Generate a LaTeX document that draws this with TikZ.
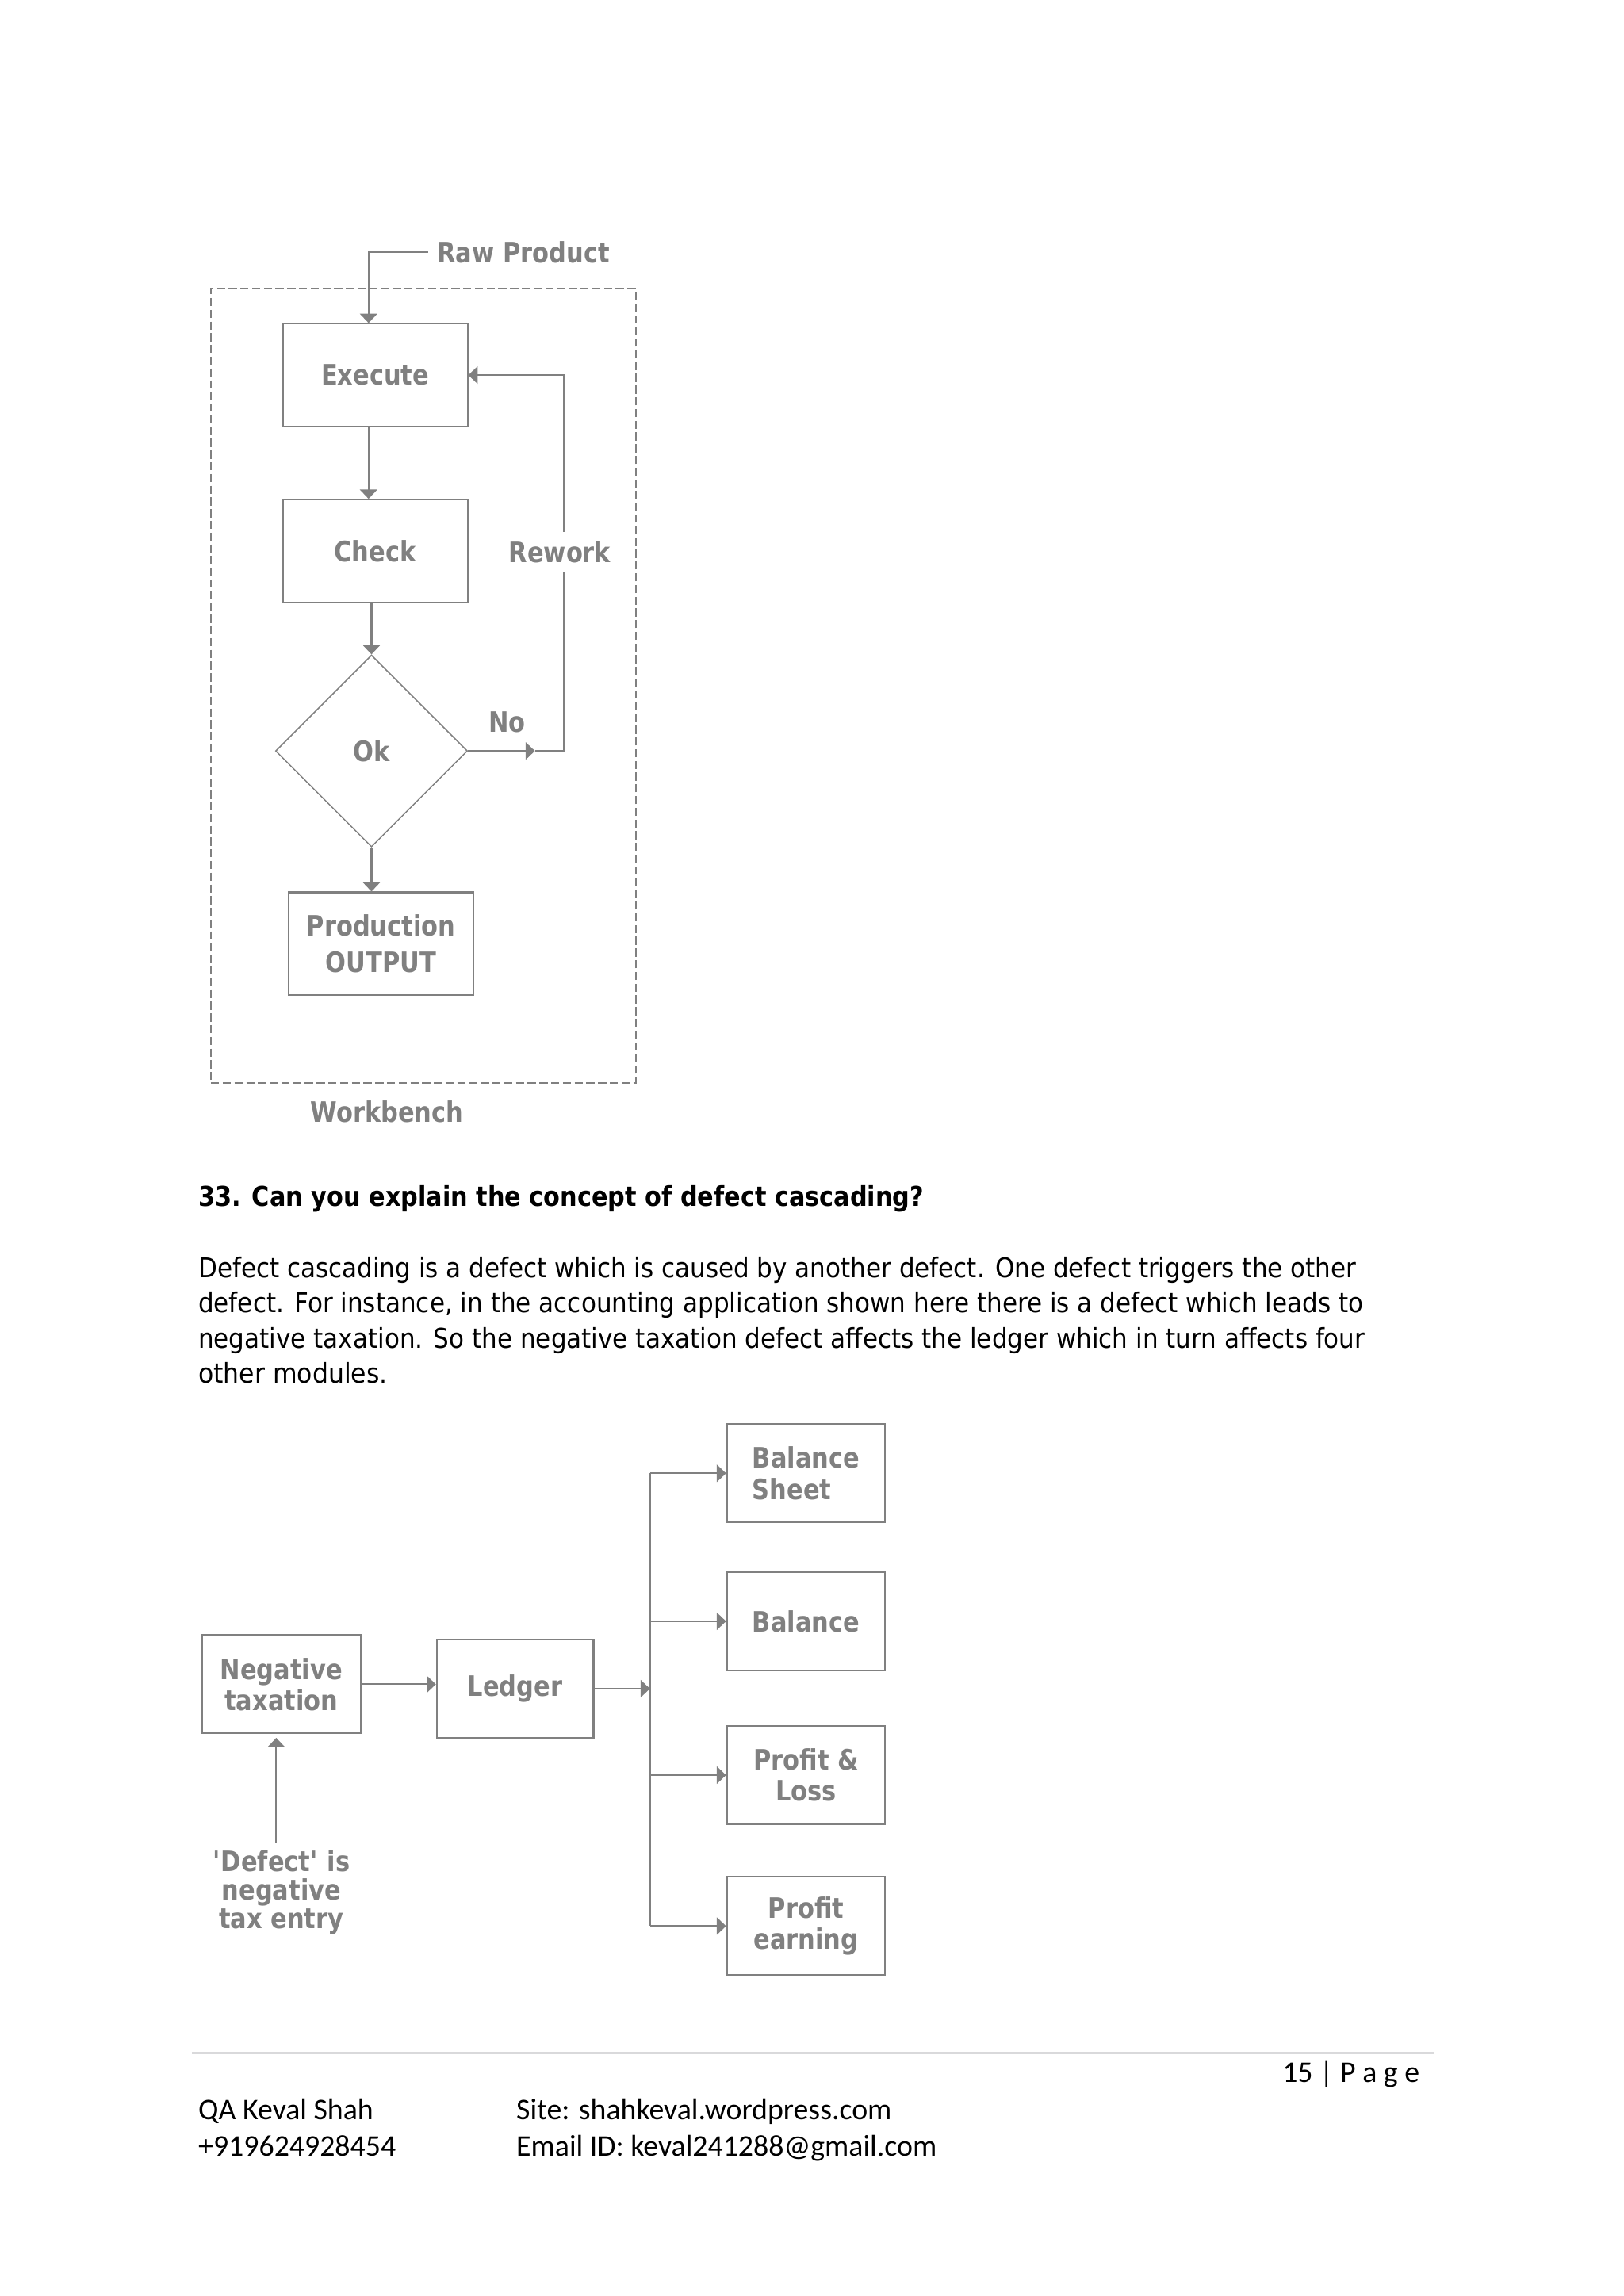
\documentclass[tikz,border=0pt]{standalone}
\usepackage{fontspec}
\setmainfont{DejaVu Sans}
\newfontfamily\dgfont{DejaVu Sans}[FakeStretch=0.86]
\newfontfamily\ftfont{Carlito}
\usetikzlibrary{arrows.meta,shapes.geometric,calc}
\definecolor{dg}{RGB}{128,128,128}
\definecolor{rulec}{RGB}{217,217,219}
\def\pxu{0.5373pt}
\newlength\fitw
\newcommand\mkfit[2]{\settowidth\fitw{#2}\pgfmathsetmacro\fitr{#1*0.5373/\fitw}\scalebox{\fitr}[1]{#2}}
\newcommand\sqt{\XeTeXglyph\XeTeXglyphindex "quotesingle" \relax}
\begin{document}
\begin{tikzpicture}[x=0.5373pt, y=-0.5373pt,
  dgf/.style={font=\dgfont\bfseries\fontsize{10.3}{11.4}\selectfont, text=dg},
  box/.style={dgf, draw=dg, line width=0.6pt, inner sep=0pt, align=center,
    minimum width=#1},
  box/.default={126*\pxu},
  lbl/.style={dgf, inner sep=0pt, align=center},
  ln/.style={draw=dg, line width=0.6pt},
  arr/.style={ln, -{Triangle[length=3.4pt,width=6.3pt]}},
  body/.style={font=\fontsize{10}{12}\selectfont, inner sep=0pt, text=black},
  ft/.style={font=\ftfont\fontsize{11}{13.4}\selectfont, inner sep=0pt, text=black}]
\fill[white] (0,0) rectangle (1108,1567);
\path[use as bounding box] (0,0) rectangle (1108,1567);

% ---------- Workbench diagram ----------
\node[draw=dg, line width=0.5pt, dash pattern=on 3pt off 1.3pt,
  minimum width=290*\pxu, minimum height=542*\pxu, inner sep=0pt] (wbox) at (289,468) {};
\node[box, minimum height=70*\pxu] (exec) at (256,256) {Execute};
\node[box, minimum height=70*\pxu] (check) at (256,376) {Check};
\node[dgf, diamond, draw=dg, line width=0.45pt, inner sep=0pt,
  minimum width=131*\pxu, minimum height=131*\pxu] (ok) at (253.5,512.5) {Ok};
\node[box, minimum height=70*\pxu, font=\dgfont\bfseries\fontsize{10.3}{13.4}\selectfont] (prod) at (260,644) {Production\\OUTPUT};
\node[lbl, anchor=west] (raw) at (298,172) {Raw Product};
\node[lbl] (wb) at (264,759) {Workbench};
\node[lbl] (no) at (346,493) {No};

\draw[arr] ($(raw.west)+(-6,0)$) -| ($(exec.north)+(-4.5,0)$);
\draw[arr] ($(exec.south)+(-4.5,0)$) -- ($(check.north)+(-4.5,0)$);
\draw[arr] (check.south -| ok.north) -- (ok.north);
\draw[arr] (ok.south) -- (ok.south |- prod.north);
\coordinate (noarr) at (365,512.5);
\coordinate (rwb) at (384.5,512.5);
\draw[arr] (ok.east) -- (noarr);
\draw[arr] (noarr) -- (rwb) |- (exec.east);
\node[lbl, fill=white, inner xsep=1pt, inner ysep=3.5pt] (rework) at (382,377) {Rework};

% ---------- Heading and body text ----------
\node[body, anchor=base west, font=\bfseries\fontsize{10}{12}\selectfont] (hd) at (135,823)
  {\mkfit{495}{33. Can you explain the concept of defect cascading?}};
\node[body, anchor=base west] (t1) at (135,872)
  {\mkfit{790}{Defect cascading is a defect which is caused by another defect. One defect triggers the other}};
\node[body, anchor=base west] (t2) at (135,896)
  {\mkfit{795}{defect. For instance, in the accounting application shown here there is a defect which leads to}};
\node[body, anchor=base west] (t3) at (135,920)
  {\mkfit{796}{negative taxation. So the negative taxation defect affects the ledger which in turn affects four}};
\node[body, anchor=base west] (t4) at (135,944)
  {\mkfit{129}{other modules.}};

% ---------- Defect cascading diagram ----------
\node[box=108*\pxu, minimum height=67*\pxu] (neg) at (192,1149.5) {Negative\\taxation};
\node[box=107*\pxu, minimum height=67*\pxu] (ledger) at (351.5,1152.5) {Ledger};
\node[box=108*\pxu, minimum height=67*\pxu, align=left] (bs) at (550,1005.5) {Balance\\Sheet};
\node[box=108*\pxu, minimum height=67*\pxu] (bal) at (550,1106.5) {Balance};
\node[box=108*\pxu, minimum height=67*\pxu] (pl) at (550,1211.5) {Profit \&\\Loss};
\node[box=108*\pxu, minimum height=67*\pxu] (pe) at (550,1314.5) {Profit\\earning};
\node[lbl, font=\dgfont\bfseries\fontsize{10.3}{10.5}\selectfont] (defl) at (192,1291.5) {\sqt Defect\sqt{} is\\negative\\tax entry};

\coordinate (busx) at (443.5,1152.5);
\draw[arr] (neg.east) -- (neg.east -| ledger.west);
\draw[arr] (ledger.east) -- (busx);
\draw[ln] (bs.west -| busx) -- (pe.west -| busx);
\draw[arr] (bs.west -| busx) -- (bs.west);
\draw[arr] (bal.west -| busx) -- (bal.west);
\draw[arr] (pl.west -| busx) -- (pl.west);
\draw[arr] (pe.west -| busx) -- (pe.west);
\coordinate (defb) at (188.5,1258);
\draw[arr] (defb) -- ($(neg.south)+(-3.5,2.5)$);

% ---------- Footer ----------
\draw[rulec, line width=0.8pt] (131,1401) -- (979,1401);
\node[ft, anchor=base east] (pg) at (969,1421) {15 | P a g e};
\node[ft, anchor=base west] (f1) at (135,1446.5) {QA Keval Shah};
\node[ft, anchor=base west] (f2) at (352,1446.5) {Site: shahkeval.wordpress.com};
\node[ft, anchor=base west] (f3) at (135,1471.5) {+919624928454};
\node[ft, anchor=base west] (f4) at (352,1471.5) {Email ID: keval241288@gmail.com};
\end{tikzpicture}
\end{document}
